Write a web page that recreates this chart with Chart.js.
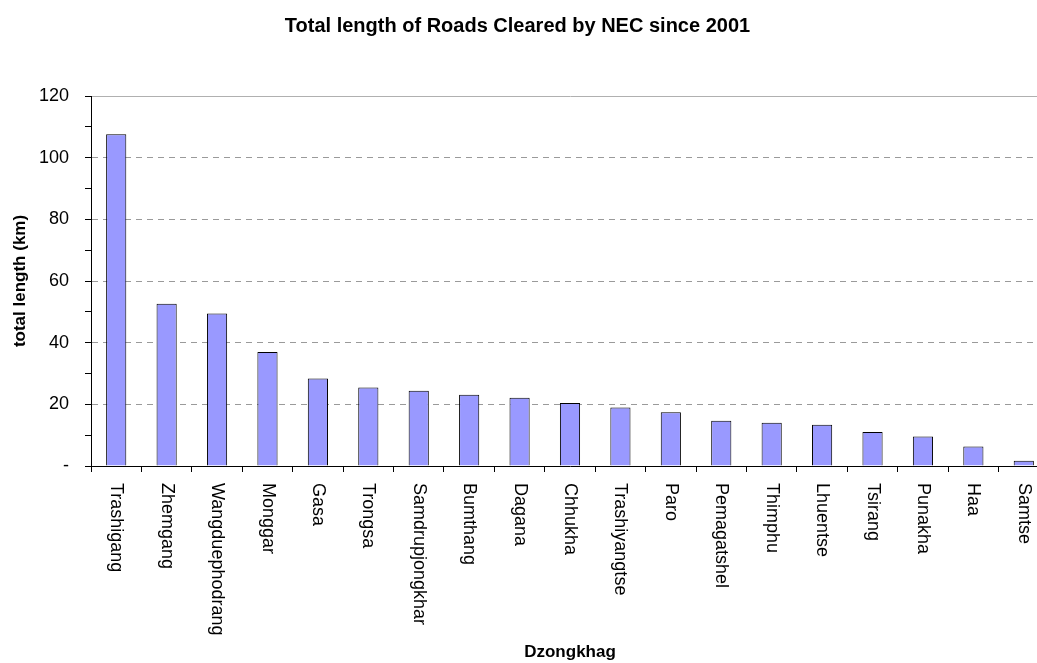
<!DOCTYPE html>
<html>
<head>
<meta charset="utf-8">
<script src="https://cdn.jsdelivr.net/npm/chart.js@4/dist/chart.umd.min.js"></script>
<style>
  html, body { margin: 0; padding: 0; background: #fff; overflow: hidden; }
  #wrap { width: 1060px; height: 663px; position: relative; }
</style>
</head>
<body>
<div id="wrap"><canvas id="chartEstradas"></canvas></div>
<script>
const dzongkhags = ['Trashigang', 'Zhemgang', 'Wangduephodrang', 'Monggar', 'Gasa', 'Trongsa',
  'Samdrupjongkhar', 'Bumthang', 'Dagana', 'Chhukha', 'Trashiyangtse', 'Paro', 'Pemagatshel',
  'Thimphu', 'Lhuentse', 'Tsirang', 'Punakha', 'Haa', 'Samtse'];
const comprimentoKm = [107.6, 52.6, 49.5, 37.0, 28.4, 25.5, 24.4, 23.1, 22.1, 20.4, 19.0, 17.4,
  14.7, 14.0, 13.4, 11.0, 9.6, 6.3, 1.7];
const yTicks = [0, 20, 40, 60, 80, 100, 120];

const tituloGrafico = 'Total length of Roads Cleared by NEC since 2001';
const tituloY = 'total length (km)';
const tituloX = 'Dzongkhag';
const fonte = '"Liberation Sans", Arial, sans-serif';

// title + rotated category labels (reading top to bottom, like the original)
const desenhoExtra = {
  id: 'desenhoExtra',
  afterDraw(chart) {
    const ctx = chart.ctx;
    const x = chart.scales.x;
    ctx.save();
    ctx.fillStyle = '#000';
    ctx.font = 'bold 20px ' + fonte;
    ctx.textAlign = 'center';
    ctx.textBaseline = 'alphabetic';
    ctx.fillText(tituloGrafico, 517.5, 32);

    ctx.font = '18px ' + fonte;
    ctx.textAlign = 'left';
    ctx.textBaseline = 'middle';
    chart.data.labels.forEach((label, i) => {
      const px = x.getPixelForValue(i);
      ctx.save();
      ctx.translate(px, chart.chartArea.bottom + 17);
      ctx.rotate(Math.PI / 2);
      ctx.fillText(label, 0, 0);
      ctx.restore();
    });
    ctx.restore();
  }
};

const chartEstradas = new Chart(document.getElementById('chartEstradas'), {
  type: 'bar',
  data: {
    labels: dzongkhags,
    datasets: [{
      data: comprimentoKm,
      backgroundColor: '#9999ff',
      borderColor: '#000',
      borderWidth: 1,
      barPercentage: 0.4,
      categoryPercentage: 1
    }]
  },
  options: {
    responsive: true,
    maintainAspectRatio: false,
    animation: false,
    layout: { padding: { top: 96, right: 11, left: 0, bottom: 0 } },
    plugins: {
      legend: { display: false },
      title: { display: false },
      tooltip: { enabled: false }
    },
    scales: {
      x: {
        afterFit(scale) { scale.height = 197; },
        grid: {
          offset: true,
          drawOnChartArea: false,
          drawTicks: true,
          tickLength: 6,
          tickColor: '#000'
        },
        border: { display: true, color: '#000', width: 1 },
        ticks: { display: false },
        title: {
          display: true,
          text: tituloX,
          color: '#000',
          font: { family: fonte, size: 17, weight: 'bold', lineHeight: 1.2 },
          padding: { top: 0, bottom: 0 }
        }
      },
      y: {
        min: 0,
        max: 120,
        afterFit(scale) { scale.width = 91; },
        afterBuildTicks(scale) {
          // major labels from yTicks, minor tick marks every 10
          const lista = [];
          for (let i = 0; i < yTicks.length; i++) {
            lista.push({ value: yTicks[i] });
            if (i < yTicks.length - 1) lista.push({ value: (yTicks[i] + yTicks[i + 1]) / 2 });
          }
          scale.ticks = lista;
        },
        grid: {
          color: c => {
            if (!c.tick) return 'transparent';
            const v = c.tick.value;
            if (v === 120) return '#b0b0b0';
            if (v > 0 && yTicks.includes(v)) return '#9a9a9a';
            return 'transparent';
          },
          lineWidth: 1,
          tickLength: 6,
          tickColor: '#000'
        },
        border: {
          display: true,
          color: '#000',
          width: 1,
          dash: c => (c.tick && c.tick.value !== 120 ? [6, 5] : [])
        },
        ticks: {
          autoSkip: false,
          padding: 16,
          color: '#000',
          font: { family: fonte, size: 18 },
          callback: v => (v === 0 ? '-' : yTicks.includes(v) ? v : '')
        },
        title: {
          display: true,
          text: tituloY,
          color: '#000',
          font: { family: fonte, size: 17, weight: 'bold', lineHeight: 1.2 },
          padding: { top: 10, bottom: 0 }
        }
      }
    }
  },
  plugins: [desenhoExtra]
});
</script>
</body>
</html>
